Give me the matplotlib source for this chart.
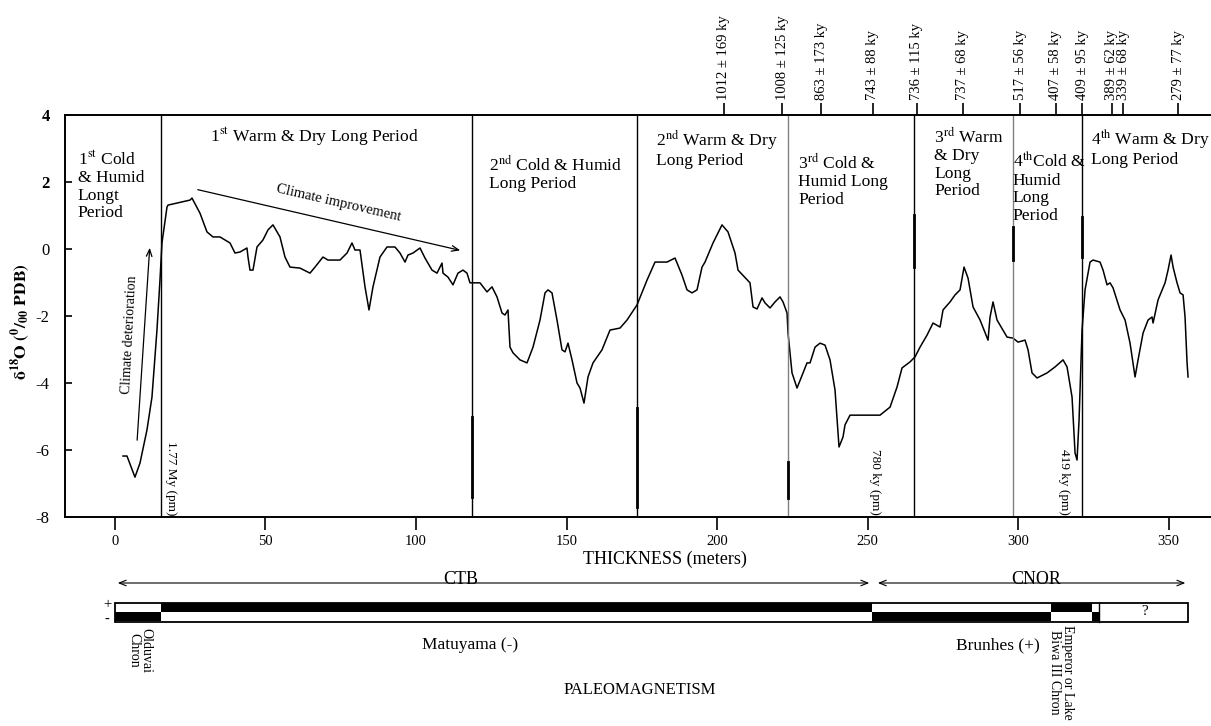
import matplotlib.pyplot as plt
from matplotlib.patches import Rectangle

plt.rcParams['font.family'] = ['Liberation Serif', 'DejaVu Serif']
plt.rcParams['mathtext.fontset'] = 'stix'
plt.rcParams['axes.unicode_minus'] = False

# d18O profile along the section (thickness in m, per mil PDB)
thickness = [2.66, 3.99, 6.64, 8.31, 10.63, 12.29, 13.29, 13.95, 14.95, 15.61, 17.28, 17.61,
             24.92, 25.58, 28.24, 30.56, 32.56, 34.88, 38.21, 39.87, 41.53, 43.85, 44.19, 44.85,
             45.85, 47.18, 49.17, 50.83, 52.49, 54.82, 56.48, 58.14, 61.46, 64.78, 66.45, 69.10,
             70.76, 74.75, 77.08, 78.74, 79.73, 81.40, 83.06, 84.39, 85.71, 88.04, 90.37, 93.02,
             94.68, 96.35, 97.34, 99.00, 101.33, 102.99, 105.32, 106.98, 108.64, 108.97, 110.63,
             112.29, 113.95, 115.61, 116.94, 117.94, 121.26, 123.59, 125.25, 126.91, 128.57,
             129.57, 130.56, 131.23, 132.23, 134.55, 136.88, 138.87, 141.20, 142.86, 143.85,
             145.18, 146.84, 148.50, 149.50, 150.50, 151.83, 153.49, 154.49, 155.81, 157.14,
             158.80, 161.79, 164.45, 167.77, 170.10, 173.42, 175.42, 176.74, 179.40, 183.39,
             186.05, 188.37, 190.03, 191.69, 193.36, 195.02, 196.01, 198.67, 201.66, 203.65,
             205.98, 206.98, 210.96, 211.96, 213.29, 214.95, 215.95, 217.61, 219.27, 220.93,
             221.93, 223.26, 223.59, 224.92, 226.58, 229.90, 230.90, 232.56, 234.22, 235.88,
             237.54, 239.20, 240.53, 241.86, 242.52, 244.19, 247.51, 254.15, 257.48, 259.80,
             261.46, 264.12, 265.78, 267.44, 269.77, 271.76, 274.09, 275.08, 277.41, 279.07,
             280.73, 282.06, 283.39, 285.05, 287.38, 290.03, 290.70, 291.69, 293.02, 296.35,
             298.34, 300.00, 302.33, 303.32, 304.65, 306.31, 309.63, 312.29, 314.95, 316.28,
             317.94, 318.94, 319.60, 320.27, 321.26, 322.26, 323.92, 324.92, 327.24, 328.24,
             329.57, 330.56, 331.56, 333.89, 335.55, 337.21, 338.87, 339.87, 341.53, 343.19,
             344.52, 344.85, 346.51, 348.84, 349.83, 350.83, 351.50, 352.82, 353.82, 354.82,
             355.48, 356.15, 356.48]
d18o = [-6.18, -6.18, -6.81, -6.39, -5.40, -4.42, -3.22, -2.42, -0.93, 0.18, 1.25, 1.31,
        1.46, 1.52, 1.07, 0.51, 0.36, 0.36, 0.18, -0.12, -0.09, 0.03, -0.24, -0.63,
        -0.63, 0.06, 0.27, 0.57, 0.72, 0.36, -0.24, -0.54, -0.57, -0.72, -0.54, -0.24,
        -0.33, -0.33, -0.12, 0.18, -0.03, -0.03, -1.13, -1.82, -1.13, -0.24, 0.06, 0.06,
        -0.12, -0.39, -0.18, -0.12, 0.03, -0.27, -0.63, -0.72, -0.42, -0.72, -0.84,
        -1.07, -0.72, -0.63, -0.72, -1.01, -1.01, -1.28, -1.13, -1.43, -1.91,
        -1.97, -1.82, -2.93, -3.10, -3.31, -3.40, -2.93, -2.12, -1.31, -1.22,
        -1.31, -2.12, -3.01, -3.07, -2.81, -3.31, -4.00, -4.15, -4.60, -3.82,
        -3.40, -3.01, -2.42, -2.36, -2.12, -1.67, -1.22, -0.93, -0.39, -0.39,
        -0.27, -0.78, -1.22, -1.31, -1.22, -0.54, -0.39, 0.18, 0.72, 0.51,
        -0.12, -0.63, -1.01, -1.73, -1.79, -1.46, -1.61, -1.76, -1.58, -1.43,
        -1.58, -1.91, -2.51, -3.70, -4.15, -3.40, -3.40, -2.93, -2.81, -2.87,
        -3.31, -4.21, -5.91, -5.61, -5.25, -4.96, -4.96, -4.96, -4.72, -4.12,
        -3.55, -3.37, -3.22, -2.93, -2.57, -2.21, -2.33, -1.82, -1.58, -1.37,
        -1.22, -0.54, -0.87, -1.73, -2.12, -2.72, -2.03, -1.58, -2.12, -2.63,
        -2.66, -2.78, -2.72, -3.01, -3.70, -3.85, -3.70, -3.52, -3.31, -3.52,
        -4.42, -6.09, -6.30, -5.10, -2.42, -1.22, -0.39, -0.33, -0.39, -0.63,
        -1.07, -1.01, -1.16, -1.82, -2.12, -2.81, -3.82, -3.31, -2.51, -2.12,
        -2.03, -2.21, -1.52, -1.01, -0.63, -0.18, -0.54, -1.01, -1.31, -1.37,
        -2.03, -3.40, -3.82]

# limits between the long climatic periods (m)
period_bounds = [15.3, 118.6, 173.4, 223.6, 265.5, 298.3, 321.3]
period_gray = [False, False, False, True, False, True, False]
period_names = ['1$^{\\rm st}$ Cold\n& Humid\nLongt\nPeriod',
                '1$^{\\rm st}$ Warm & Dry Long Period',
                '2$^{\\rm nd}$ Cold & Humid\nLong Period',
                '2$^{\\rm nd}$ Warm & Dry\nLong Period',
                '3$^{\\rm rd}$ Cold &\nHumid Long\nPeriod',
                '3$^{\\rm rd}$ Warm\n& Dry\nLong\nPeriod',
                '4$^{\\rm th}$Cold &\nHumid\nLong\nPeriod',
                '4$^{\\rm th}$ Warm & Dry\nLong Period']
name_x = [-12.3, 31.6, 124.3, 179.7, 226.9, 272.1, 298.3, 324.3]
name_y = [2.93, 3.67, 2.81, 3.61, 2.87, 3.64, 2.90, 3.64]

# dated levels (top axis)
age_pos = [202.3, 221.6, 234.7, 251.8, 266.4, 281.7, 300.7, 312.6, 321.3, 331.2, 334.9, 353.2]
age_labels = ['1012 ± 169 ky', '1008 ± 125 ky', '863 ± 173 ky', '743 ± 88 ky',
              '736 ± 115 ky', '737 ± 68 ky', '517 ± 56 ky', '407 ± 58 ky',
              '409 ± 95 ky', '389 ± 62 ky', '339 ± 68 ky', '279 ± 77 ky']

# paleomagnetic polarity column
chron_edges = [0, 15.3, 251.5, 311.0, 324.6, 327.0, 356.5]
chron_top_black = [False, True, False, True, False, None]

fig = plt.figure(figsize=(12.11, 7.26), dpi=100)
ax = fig.add_axes([65 / 1211, 1 - 517 / 726, 1 - 65 / 1211, 402 / 726])
ax.plot(thickness, d18o, color='black', lw=1.1)
ax.set_xlim(-16.6, 364.1)
ax.set_ylim(-8, 4)

for b, g in zip(period_bounds, period_gray):
    ax.axvline(b, color='#808080' if g else 'black', lw=1.0)
# darker pieces on some limits
for b, y0, y1 in [(118.6, -7.4, -5.0), (173.4, -7.7, -4.75), (223.6, -7.43, -6.36),
                  (265.5, -0.54, 1.01), (298.3, -0.33, 0.66), (321.3, -0.24, 0.96)]:
    ax.plot([b, b], [y0, y1], color='black', lw=2.0)

for txt, x, y in zip(period_names, name_x, name_y):
    ax.text(x, y, txt, fontsize=12.6, va='top', ha='left', linespacing=1.12)

ax.text(18.6, -7.95, '1.77 My (pm)', rotation=270, fontsize=9.5, ha='center', va='bottom')
ax.text(252.5, -7.95, '780 ky (pm)', rotation=270, fontsize=9.5, ha='center', va='bottom')
ax.text(315.3, -7.95, '419 ky (pm)', rotation=270, fontsize=9.5, ha='center', va='bottom')

ax.annotate('', xy=(115.6, -0.06), xytext=(26.6, 1.79),
            arrowprops=dict(arrowstyle='->,head_length=0.5,head_width=0.2', lw=0.9))
ax.text(74.4, 1.37, 'Climate improvement', rotation=-13, fontsize=10.5,
        ha='center', va='center', rotation_mode='anchor')
ax.annotate('', xy=(11.6, 0.12), xytext=(7.3, -5.79),
            arrowprops=dict(arrowstyle='->,head_length=0.5,head_width=0.2', lw=0.9))
ax.text(4.9, -2.57, 'Climate deterioration', rotation=87, fontsize=10,
        ha='center', va='center', rotation_mode='anchor')

ax.set_yticks([-8, -6, -4, -2, 0, 2, 4])
ax.tick_params(axis='y', direction='in', length=5, width=1.2, labelsize=12, pad=11)
for lab in ax.get_yticklabels():
    if lab.get_text() in ('2', '4'):
        lab.set_fontweight('bold')
ax.set_xticks([0, 50, 100, 150, 200, 250, 300, 350])
ax.tick_params(axis='x', direction='out', length=9, width=1.2, labelsize=10.5, pad=4)
ax.spines['right'].set_visible(False)
for s in ('left', 'top', 'bottom'):
    ax.spines[s].set_linewidth(1.4)

ax.set_xlabel('THICKNESS (meters)', fontsize=13)
ax.xaxis.set_label_coords(0.5236, -0.1045)
ax.xaxis.label.set_va('center')
ax.set_ylabel(r'$\mathbf{\delta^{18}O\ (^{0}/_{00}\ PDB)}$', fontsize=12.5)
ax.yaxis.set_label_coords(-0.0385, 0.485)
ax.yaxis.label.set_va('center')

top = ax.twiny()
top.set_xlim(ax.get_xlim())
top.set_xticks(age_pos, age_labels, rotation=90, fontsize=10.5)
top.tick_params(axis='x', direction='out', length=9, width=1.2, pad=2)
for s in top.spines.values():
    s.set_visible(False)

# lower panel: formations and polarity column (y in pixels, downwards)
low = fig.add_axes([65 / 1211, 0, 1 - 65 / 1211, 196 / 726])
low.set_xlim(ax.get_xlim())
low.set_ylim(726, 530)
low.axis('off')

arrow = dict(arrowstyle='<->,head_length=0.5,head_width=0.2', lw=0.8)
low.annotate('', xy=(chron_edges[0], 583), xytext=(chron_edges[2], 583), arrowprops=arrow)
low.annotate('', xy=(chron_edges[2] + 1.0, 583), xytext=(chron_edges[-1], 583), arrowprops=arrow)
low.text(115, 584, 'CTB', fontsize=13, ha='center', va='baseline')
low.text(306, 584, 'CNOR', fontsize=13, ha='center', va='baseline')

for x0, x1, tb in zip(chron_edges[:-1], chron_edges[1:], chron_top_black):
    if tb is None:
        continue
    row = 603 if tb else 612
    low.bar(x0, 9.5, width=x1 - x0, bottom=row, align='edge', color='black', lw=0)
low.add_patch(Rectangle((chron_edges[0], 603), chron_edges[-1] - chron_edges[0], 19,
                        fill=False, lw=1.3, ec='black'))
low.plot([chron_edges[5], chron_edges[5]], [603, 622], color='black', lw=1.0)
low.text(342, 612, '?', fontsize=11, ha='center', va='center')
low.text(-2.66, 605, '+', fontsize=10.5, ha='center', va='center')
low.text(-2.66, 619, '-', fontsize=10.5, ha='center', va='center')

low.text(8.3, 628, 'Olduvai\nChron', rotation=270, fontsize=10, ha='center', va='top',
         linespacing=0.95)
low.text(117.9, 645, 'Matuyama (-)', fontsize=12.5, ha='center', va='center')
low.text(174.4, 690, 'PALEOMAGNETISM', fontsize=12, ha='center', va='center')
low.text(293.4, 645, 'Brunhes (+)', fontsize=12.5, ha='center', va='center')
low.text(314.3, 625, 'Emperor or Lake\nBiwa III Chron', rotation=270, fontsize=10,
         ha='center', va='top', linespacing=0.95)

fig.savefig('out.png', dpi=100)
